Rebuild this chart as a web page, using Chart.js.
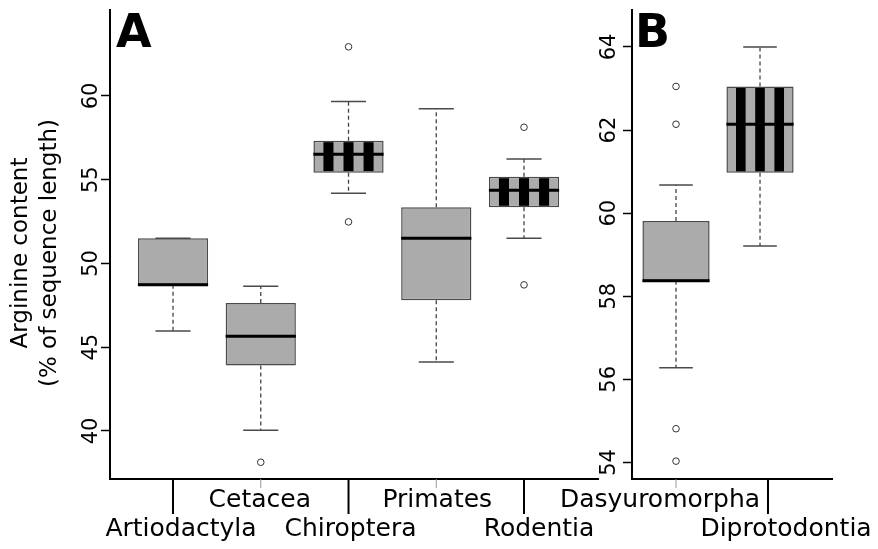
<!DOCTYPE html>
<html>
<head>
<meta charset="utf-8">
<script src="https://cdn.jsdelivr.net/npm/chart.js@4.4.1/dist/chart.umd.min.js"></script>
<style>
  html, body { margin: 0; padding: 0; background: #fff; }
  #wrap { position: relative; width: 878px; height: 549px; }
  #wrap canvas { position: absolute; left: 0; top: 0; }
</style>
</head>
<body>
<div id="wrap">
  <canvas id="chartA" width="878" height="549"></canvas>
  <canvas id="chartB" width="878" height="549"></canvas>
</div>
<script>
// panel A: placental orders
var catsA = ['Artiodactyla', 'Cetacea', 'Chiroptera', 'Primates', 'Rodentia'];
var lowA  = [45.97, 40.04, 54.19, 44.12, 51.50];
var q1A   = [48.72, 43.90, 55.42, 47.80, 53.35];
var medA  = [48.72, 45.65, 56.52, 51.50, 54.37];
var q3A   = [51.50, 47.64, 57.33, 53.35, 55.18];
var highA = [51.50, 48.64, 59.66, 59.24, 56.24];
var outA  = [[], [38.13], [62.93, 52.48], [], [58.13, 48.72]];
var ticksA = [40, 45, 50, 55, 60];

// panel B: marsupial orders
var catsB = ['Dasyuromorpha', 'Diprotodontia'];
var lowB  = [56.28, 59.21];
var q1B   = [58.37, 60.97];
var medB  = [58.37, 62.14];
var q3B   = [59.81, 63.05];
var highB = [60.68, 64.00];
var outB  = [[63.05, 62.14, 54.81, 54.03], []];
var ticksB = [54, 56, 58, 60, 62, 64];

var FONT = '"DejaVu Sans", "Bitstream Vera Sans", sans-serif';
Chart.defaults.font.family = FONT;

function boxDatasets(cats, low, q1, med, q3, high, outs) {
  var boxes = [], whiskers = [], caps = [], medians = [], points = [];
  cats.forEach(function (c, i) {
    var x = i + 1;
    boxes.push({x: x, y: [q1[i], q3[i]]});
    whiskers.push({x: x, y: q3[i]}, {x: x, y: high[i]}, {x: x, y: null});
    whiskers.push({x: x, y: q1[i]}, {x: x, y: low[i]}, {x: x, y: null});
    caps.push({x: x - 0.2, y: high[i]}, {x: x + 0.2, y: high[i]}, {x: x, y: null});
    caps.push({x: x - 0.2, y: low[i]}, {x: x + 0.2, y: low[i]}, {x: x, y: null});
    medians.push({x: x - 0.4, y: med[i]}, {x: x + 0.4, y: med[i]}, {x: x, y: null});
    outs[i].forEach(function (v) { points.push({x: x, y: v}); });
  });
  return [
    {type: 'bar', data: boxes, order: 4, backgroundColor: '#ababab', borderColor: '#4a4a4a',
     borderWidth: 1.5, borderSkipped: false, barPercentage: 1, categoryPercentage: 0.8},
    {type: 'line', data: whiskers, order: 3, borderColor: '#444', borderWidth: 1.3,
     borderDash: [4, 3], pointRadius: 0, spanGaps: false, fill: false},
    {type: 'line', data: caps, order: 2, borderColor: '#4a4a4a', borderWidth: 1.5,
     pointRadius: 0, spanGaps: false, fill: false},
    {type: 'line', data: medians, order: 1, borderColor: '#000', borderWidth: 3,
     borderCapStyle: 'butt', pointRadius: 0, spanGaps: false, fill: false},
    {type: 'line', data: points, order: 0, showLine: false, pointRadius: 3.3,
     pointBorderWidth: 1, pointBorderColor: '#333', pointBackgroundColor: 'rgba(0,0,0,0)'}
  ];
}

var boxExtras = {
  id: 'boxExtras',
  afterDatasetDraw: function (chart, args, opts) {
    if (args.index !== 0) return;
    var ctx = chart.ctx;
    ctx.save();
    ctx.fillStyle = '#000';
    args.meta.data.forEach(function (bar, i) {
      if (!opts.striped[i]) return;
      var p = bar.getProps(['x', 'y', 'base', 'width'], true);
      var left = p.x - p.width / 2;
      var top = Math.min(p.y, p.base);
      var h = Math.abs(p.base - p.y);
      var w = p.width / 7;
      for (var k = 1; k < 7; k += 2) {
        ctx.fillRect(left + k * w, top + 1.5, w, h - 3);
      }
    });
    ctx.restore();
  },
  afterDraw: function (chart, args, opts) {
    var ctx = chart.ctx, xs = chart.scales.x, ys = chart.scales.y, area = chart.chartArea;
    ctx.save();
    ctx.fillStyle = '#000';

    // y tick labels, turned like R's default
    ctx.font = '21px ' + FONT;
    ctx.textAlign = 'center';
    ctx.textBaseline = 'middle';
    ys.ticks.forEach(function (t) {
      ctx.save();
      ctx.translate(area.left - opts.yLabelGap, ys.getPixelForValue(t.value));
      ctx.rotate(-Math.PI / 2);
      ctx.fillText(String(t.value), 0, 0);
      ctx.restore();
    });

    // staggered category labels with short / long ticks
    ctx.font = '25px ' + FONT;
    ctx.textBaseline = 'alphabetic';
    xs.ticks.forEach(function (t, i) {
      var px = xs.getPixelForValue(t.value);
      var lower = (i % 2 === 0) === opts.lowerFirst;
      ctx.beginPath();
      if (lower) {
        ctx.strokeStyle = '#000';
        ctx.lineWidth = 2;
        ctx.moveTo(px + opts.tickShift[i], area.bottom);
        ctx.lineTo(px + opts.tickShift[i], area.bottom + 35);
      } else {
        ctx.strokeStyle = '#999';
        ctx.lineWidth = 1;
        ctx.moveTo(px, area.bottom);
        ctx.lineTo(px, area.bottom + 9);
      }
      ctx.stroke();
      ctx.fillText(opts.labels[i], px + opts.labelShift[i], area.bottom + (lower ? 56.7 : 28));
    });

    // panel letter
    ctx.font = 'bold 46px ' + FONT;
    ctx.textAlign = 'left';
    ctx.fillText(opts.letter, area.left + opts.letterDx, area.top + 37);

    // y axis title
    if (opts.yTitle) {
      ctx.font = '23px ' + FONT;
      ctx.textAlign = 'center';
      ctx.textBaseline = 'middle';
      ctx.translate(21, 253);
      ctx.rotate(-Math.PI / 2);
      opts.yTitle.forEach(function (line, k) {
        ctx.fillText(line, 0, k * 29);
      });
    }
    ctx.restore();
  }
};

function makeChart(id, cfg) {
  return new Chart(document.getElementById(id), {
    type: 'bar',
    data: {datasets: boxDatasets(cfg.cats, cfg.low, cfg.q1, cfg.med, cfg.q3, cfg.high, cfg.outs)},
    options: {
      responsive: false,
      animation: false,
      devicePixelRatio: 1,
      layout: {padding: {left: 0, top: 10, right: cfg.padRight, bottom: 0}},
      scales: {
        x: {
          type: 'linear',
          offset: false,
          min: cfg.xMin,
          max: cfg.xMax,
          afterBuildTicks: function (s) {
            s.ticks = cfg.cats.map(function (c, i) { return {value: i + 1}; });
          },
          afterFit: function (s) { s.height = 70; },
          ticks: {display: false},
          grid: {display: false, offset: false},
          border: {display: true, color: '#000', width: 2}
        },
        y: {
          min: cfg.yMin,
          max: cfg.yMax,
          afterBuildTicks: function (s) {
            s.ticks = cfg.yTicks.map(function (v) { return {value: v}; });
          },
          afterFit: function (s) { s.width = cfg.axisLeft; },
          ticks: {display: false},
          grid: {display: true, drawOnChartArea: false, drawTicks: true, tickLength: 9,
                 tickColor: '#000', tickWidth: 1.5},
          border: {display: true, color: '#000', width: 2}
        }
      },
      plugins: {
        legend: {display: false},
        tooltip: {enabled: false},
        boxExtras: {
          striped: cfg.striped,
          labels: cfg.cats,
          lowerFirst: cfg.lowerFirst,
          labelShift: cfg.labelShift,
          tickShift: cfg.tickShift,
          yLabelGap: cfg.yLabelGap,
          letter: cfg.letter,
          letterDx: cfg.letterDx,
          yTitle: cfg.yTitle
        }
      }
    },
    plugins: [boxExtras]
  });
}

makeChart('chartA', {
  cats: catsA, low: lowA, q1: q1A, med: medA, q3: q3A, high: highA, outs: outA,
  yTicks: ticksA, yMin: 37.13, yMax: 65.13, xMin: 0.282, xMax: 5.843,
  axisLeft: 110, padRight: 280,
  striped: [false, false, true, false, true],
  lowerFirst: true,
  labelShift: [8, -1, 2, 1, 15],
  tickShift: [0, 0, 0, 0, 0],
  yLabelGap: 18.5,
  letter: 'A', letterDx: 6,
  yTitle: ['Arginine content', '(% of sequence length)']
});

makeChart('chartB', {
  cats: catsB, low: lowB, q1: q1B, med: medB, q3: q3B, high: highB, outs: outB,
  yTicks: ticksB, yMin: 53.6, yMax: 64.89, xMin: 0.476, xMax: 2.857,
  axisLeft: 632, padRight: 46,
  striped: [false, true],
  lowerFirst: false,
  labelShift: [-16, 26],
  tickShift: [0, 8],
  yLabelGap: 22,
  letter: 'B', letterDx: 3,
  yTitle: null
});
</script>
</body>
</html>
